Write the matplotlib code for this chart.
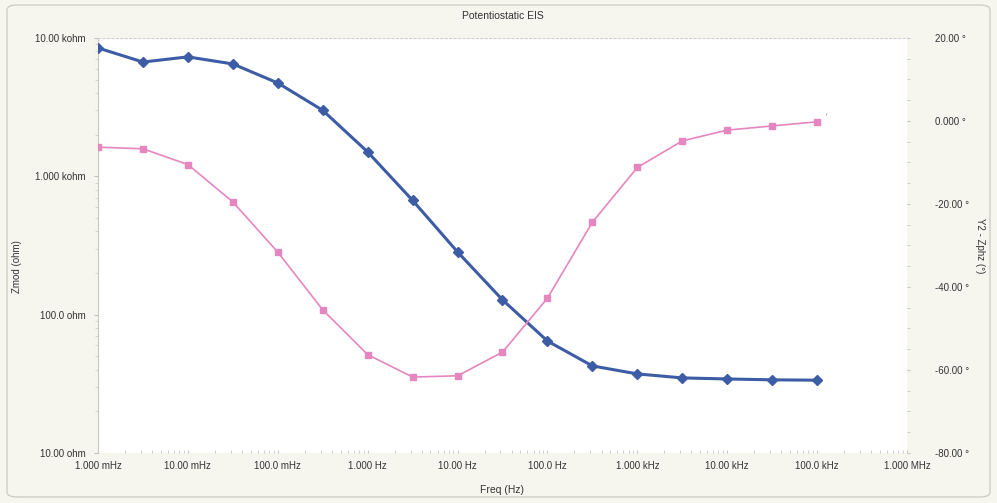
import numpy as np
import matplotlib.pyplot as plt
from matplotlib.ticker import FixedLocator, NullFormatter, LogLocator
from matplotlib.patches import FancyBboxPatch

# ---------------------------------------------------
# donnees (EIS potentiostatique)
freq = [1e-3, 3.162e-3, 1e-2, 3.162e-2, 1e-1, 3.162e-1, 1.0, 3.162, 10.0, 31.62,
        100.0, 316.2, 1e3, 3162.0, 1e4, 3.162e4, 1e5]
zmod = [8470, 6700, 7300, 6490, 4730, 3000, 1500, 670, 284, 128,
        64.5, 42.6, 37.3, 34.9, 34.3, 33.8, 33.6]
zphz = [-6.3, -6.7, -10.5, -19.5, -31.6, -45.5, -56.3, -61.7, -61.4, -55.7,
        -42.7, -24.4, -11.2, -4.8, -2.2, -1.2, -0.2]

xticks = [1e-3, 1e-2, 1e-1, 1, 10, 100, 1e3, 1e4, 1e5, 1e6]
xlabels = ['1.000 mHz', '10.00 mHz', '100.0 mHz', '1.000 Hz', '10.00 Hz',
           '100.0 Hz', '1.000 kHz', '10.00 kHz', '100.0 kHz', '1.000 MHz']
yticks = [10, 100, 1000, 10000]
ylabels = ['10.00 ohm', '100.0 ohm', '1.000 kohm', '10.00 kohm']
y2ticks = [-80, -60, -40, -20, 0, 20]
y2labels = ['-80.00 °', '-60.00 °', '-40.00 °', '-20.00 °', '0.000 °', '20.00 °']

# ---------------------------------------------------
plt.rcParams['font.family'] = ['Liberation Sans', 'DejaVu Sans']
bleu = '#3d5ca6'
rose = '#e586c0'
gris = '#9a9a9a'

fig = plt.figure(figsize=(9.97, 5.03), dpi=100)
fig.patch.set_facecolor('#f6f6ef')
fig.patches.append(FancyBboxPatch((0.007, 0.012), 0.986, 0.978,
                                  boxstyle='round,pad=0,rounding_size=0.01',
                                  transform=fig.transFigure, fc='none',
                                  ec='#cfcfc8', lw=1.0))

ax = fig.add_axes([0.0983, 0.0994, 0.8114, 0.8251])
ax.set_facecolor('white')
ax.set_xscale('log')
ax.set_yscale('log')
ax.set_xlim(1e-3, 1e6)
ax.set_ylim(10, 10000)

ax.plot(freq, zmod, color=bleu, lw=2.2, marker='D', ms=5,
        mfc=bleu, mec=bleu, zorder=3)

ax.xaxis.set_major_locator(FixedLocator(xticks))
ax.set_xticklabels(xlabels, fontsize=7, color='#333333')
ax.xaxis.set_minor_locator(LogLocator(base=10, subs=np.arange(2, 10)))
ax.xaxis.set_minor_formatter(NullFormatter())
ax.yaxis.set_major_locator(FixedLocator(yticks))
ax.set_yticklabels(ylabels, fontsize=7, color='#333333')
ax.yaxis.set_minor_locator(LogLocator(base=10, subs=np.arange(2, 10)))
ax.yaxis.set_minor_formatter(NullFormatter())
ax.tick_params(axis='x', which='both', length=2, color='#c8c8c8',
               direction='in', pad=6)
ax.tick_params(axis='y', which='major', length=3, color='#c0c0c0', pad=6)
ax.tick_params(axis='y', which='minor', length=2, color='#d0d0d0')

for s in ['right', 'bottom']:
    ax.spines[s].set_visible(False)
ax.spines['left'].set_color('#c8c8c8')
ax.spines['top'].set_color('#d0d0d0')
ax.spines['top'].set_linestyle((0, (2, 2)))

ax.set_ylabel('Zmod (ohm)', fontsize=7, color='#333333')
ax.yaxis.set_label_coords(-0.094, 0.45)
ax.set_xlabel('Freq (Hz)', fontsize=7.5, color='#333333', labelpad=10)
ax.set_title('Potentiostatic EIS', fontsize=7.5, color='#333333', pad=14)

ax2 = ax.twinx()
ax2.set_ylim(-80, 20)
ax2.plot(freq, zphz, color=rose, lw=1.2, marker='s', ms=5,
         mfc=rose, mec=rose, zorder=3)
ax2.yaxis.set_major_locator(FixedLocator(y2ticks))
ax2.set_yticklabels(y2labels, fontsize=7, color='#333333')
ax2.yaxis.set_minor_locator(FixedLocator(np.arange(-80, 21, 5)))
ax2.tick_params(axis='y', which='both', length=2, color='#c8c8c8', pad=18)
for s in ['left', 'right', 'top', 'bottom']:
    ax2.spines[s].set_visible(False)
ax2.set_ylabel('Y2 - Zphz (°)', fontsize=7, color='#333333', rotation=270)
ax2.yaxis.set_label_coords(1.096, 0.5)
ax2.text(freq[-1] * 1.25, zphz[-1] + 1.5, 'r', fontsize=4, color=gris)

fig.savefig('out.png', dpi=100, facecolor=fig.get_facecolor())
